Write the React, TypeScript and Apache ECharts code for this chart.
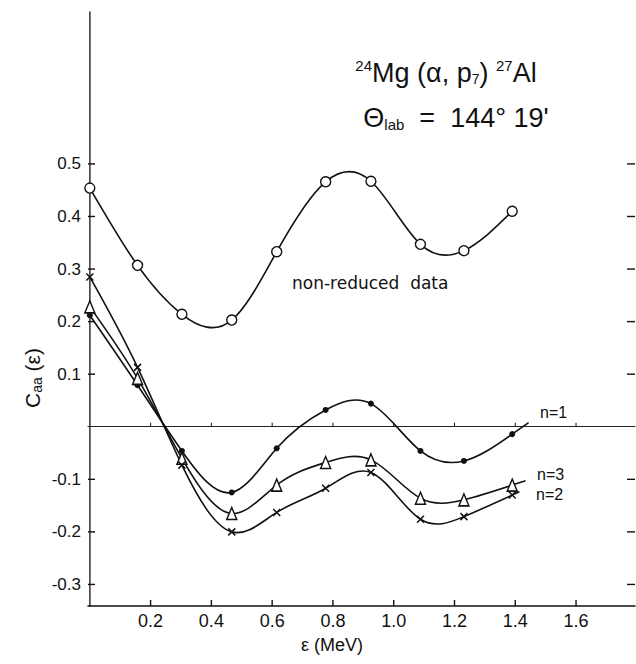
import React, { useEffect, useRef } from "react";
import * as echarts from "echarts";

const energies = [0, 0.157, 0.303, 0.467, 0.615, 0.776, 0.925, 1.088, 1.231, 1.39];
const nonReduced = [0.454, 0.307, 0.214, 0.203, 0.333, 0.466, 0.467, 0.347, 0.335, 0.41];
const n1Values = [0.212, 0.079, -0.046, -0.125, -0.041, 0.032, 0.044, -0.046, -0.065, -0.014];
const n3Values = [0.228, 0.092, -0.06, -0.165, -0.111, -0.068, -0.063, -0.136, -0.139, -0.111];
const n2Values = [0.285, 0.113, -0.073, -0.2, -0.163, -0.117, -0.087, -0.176, -0.171, -0.13];

const xTicks = [0.2, 0.4, 0.6, 0.8, 1.0, 1.2, 1.4, 1.6];
const xTickLabels = ["0.2", "0.4", "0.6", "0.8", "1.0", "1.2", "1.4", "1.6"];
const yTicks = [-0.3, -0.2, -0.1, 0.1, 0.2, 0.3, 0.4, 0.5];
const yTickLabels = ["-0.3", "-0.2", "-0.1", "0.1", "0.2", "0.3", "0.4", "0.5"];

const FONT = "Liberation Sans";
const X_MIN = -0.006;
const X_MAX = 1.794;
const Y_MIN = -0.341;
const Y_MAX = 0.789;

function pairs(ys: number[]) {
  return energies.map((e, i) => [e, ys[i]]);
}

// natural cubic spline (in pixel space) through the projected data points, as Bezier path
function splinePath(pts: number[][], tail: number) {
  const n = pts.length;
  const h: number[] = [];
  for (let i = 0; i < n - 1; i++) h.push(pts[i + 1][0] - pts[i][0]);
  const a: number[] = new Array(n).fill(0);
  const b: number[] = new Array(n).fill(1);
  const c: number[] = new Array(n).fill(0);
  const d: number[] = new Array(n).fill(0);
  for (let i = 1; i < n - 1; i++) {
    a[i] = h[i - 1];
    b[i] = 2 * (h[i - 1] + h[i]);
    c[i] = h[i];
    d[i] = 6 * ((pts[i + 1][1] - pts[i][1]) / h[i] - (pts[i][1] - pts[i - 1][1]) / h[i - 1]);
  }
  const cp = new Array(n).fill(0);
  const dp = new Array(n).fill(0);
  cp[0] = c[0] / b[0];
  dp[0] = d[0] / b[0];
  for (let i = 1; i < n; i++) {
    const m = b[i] - a[i] * cp[i - 1];
    cp[i] = c[i] / m;
    dp[i] = (d[i] - a[i] * dp[i - 1]) / m;
  }
  const M = new Array(n).fill(0);
  M[n - 1] = dp[n - 1];
  for (let i = n - 2; i >= 0; i--) M[i] = dp[i] - cp[i] * M[i + 1];
  const slope = (i: number) => {
    if (i < n - 1) return (pts[i + 1][1] - pts[i][1]) / h[i] - (h[i] * (2 * M[i] + M[i + 1])) / 6;
    const k = n - 2;
    return (pts[n - 1][1] - pts[k][1]) / h[k] + (h[k] * (M[k] + 2 * M[n - 1])) / 6;
  };
  let p = `M${pts[0][0]},${pts[0][1]}`;
  for (let i = 0; i < n - 1; i++) {
    const m0 = slope(i);
    const m1 = slope(i + 1);
    const hh = h[i];
    p += ` C${pts[i][0] + hh / 3},${pts[i][1] + (m0 * hh) / 3} ${pts[i + 1][0] - hh / 3},${
      pts[i + 1][1] - (m1 * hh) / 3
    } ${pts[i + 1][0]},${pts[i + 1][1]}`;
  }
  if (tail > 0) {
    const mEnd = slope(n - 1);
    const len = Math.sqrt(1 + mEnd * mEnd);
    p += ` L${pts[n - 1][0] + tail / len},${pts[n - 1][1] + (tail * mEnd) / len}`;
  }
  return p;
}

function curveSeries(ys: number[], tail: number) {
  return {
    type: "custom",
    clip: false,
    data: pairs(ys),
    z: 2,
    silent: true,
    renderItem: (params: any, api: any) => {
      if (params.dataIndex !== 0) return null;
      const pts = energies.map((e, i) => api.coord([e, ys[i]]));
      return {
        type: "path",
        shape: { pathData: splinePath(pts, tail) },
        style: { stroke: "#111", fill: "none", lineWidth: 1.6 },
      };
    },
  };
}

// tick marks drawn through the axis scales; dx/dy give the pixel direction of the tick
function tickSeries(data: number[][], dx: number, dy: number, width: number) {
  return {
    type: "custom",
    clip: false,
    silent: true,
    data,
    z: 3,
    renderItem: (params: any, api: any) => {
      const p = api.coord([api.value(0), api.value(1)]);
      return {
        type: "line",
        shape: { x1: p[0], y1: p[1], x2: p[0] + dx, y2: p[1] + dy },
        style: { stroke: "#111", lineWidth: width },
      };
    },
  };
}

export default function App() {
  const ref = useRef<HTMLDivElement>(null);
  useEffect(() => {
    if (!ref.current) return;
    const chart = echarts.init(ref.current, null, { renderer: "svg" });
    const option: any = {
      animation: false,
      backgroundColor: "#fff",
      grid: { left: 88, right: 1, top: 12, bottom: 58, containLabel: false },
      xAxis: [
        {
          type: "value",
          min: X_MIN,
          max: X_MAX,
          position: "bottom",
          axisLine: { onZero: false, lineStyle: { color: "#111", width: 1.5 } },
          axisTick: { show: false },
          axisLabel: {
            customValues: xTicks,
            margin: 6,
            color: "#111",
            fontFamily: FONT,
            fontSize: 18,
            formatter: (v: number) => {
              const i = xTicks.findIndex((t) => Math.abs(t - v) < 1e-6);
              return i >= 0 ? xTickLabels[i] : "";
            },
          },
          splitLine: { show: false },
        },
        {
          type: "value",
          min: X_MIN,
          max: X_MAX,
          position: "top",
          axisLine: { onZero: true, lineStyle: { color: "#222", width: 1.1 } },
          axisTick: { show: false },
          axisLabel: { show: false },
          splitLine: { show: false },
        },
      ],
      yAxis: [
        {
          type: "value",
          min: Y_MIN,
          max: Y_MAX,
          position: "left",
          axisLine: { lineStyle: { color: "#111", width: 1.5 } },
          axisTick: { show: false },
          axisLabel: {
            customValues: yTicks,
            margin: 7,
            color: "#111",
            fontFamily: FONT,
            fontSize: 17,
            formatter: (v: number) => {
              const i = yTicks.findIndex((t) => Math.abs(t - v) < 1e-6);
              return i >= 0 ? yTickLabels[i] : "";
            },
          },
          splitLine: { show: false },
        },
        {
          type: "value",
          min: Y_MIN,
          max: Y_MAX,
          position: "right",
          axisLine: { lineStyle: { color: "#888", width: 0.8 } },
          axisTick: { show: false },
          axisLabel: { show: false },
          splitLine: { show: false },
        },
      ],
      series: [
        tickSeries(yTicks.map((v) => [X_MIN, v]), 7, 0, 1.4),
        tickSeries(yTicks.map((v) => [X_MAX, v]), -8, 0, 1.4),
        tickSeries(xTicks.map((v) => [v, Y_MIN]), 0, -6, 1.4),
        tickSeries(xTicks.map((v) => [v, 0]), 0, -4, 1),
        curveSeries(nonReduced, 0),
        curveSeries(n1Values, 20),
        curveSeries(n3Values, 14),
        curveSeries(n2Values, 8),
        {
          name: "non-reduced data",
          type: "scatter",
          clip: false,
          data: pairs(nonReduced),
          symbol: "circle",
          symbolSize: 10,
          itemStyle: { color: "#fff", borderColor: "#111", borderWidth: 1.4, opacity: 1 },
          z: 5,
        },
        {
          name: "n=1",
          type: "scatter",
          clip: false,
          data: pairs(n1Values),
          symbol: "circle",
          symbolSize: 6,
          itemStyle: { color: "#111", opacity: 1 },
          z: 5,
        },
        {
          name: "n=3",
          type: "scatter",
          clip: false,
          data: pairs(n3Values),
          symbol: "triangle",
          symbolSize: [10, 12],
          itemStyle: { color: "#fff", borderColor: "#111", borderWidth: 1.5, opacity: 1 },
          z: 6,
        },
        {
          name: "n=2",
          type: "scatter",
          clip: false,
          data: pairs(n2Values),
          symbol: "path://M0 0L10 10M10 0L0 10",
          symbolSize: 7,
          itemStyle: { color: "none", borderColor: "#111", borderWidth: 1.5, opacity: 1 },
          z: 6,
        },
      ],
      graphic: [
        {
          type: "text",
          x: 446,
          y: 73,
          style: {
            text: "{sup|24}{b|Mg (α, p}{sub|7}{b|) }{sup|27}{b|Al}",
            align: "center",
            verticalAlign: "middle",
            rich: {
              b: { fontFamily: FONT, fontSize: 27, fill: "#111" },
              sup: { fontFamily: FONT, fontSize: 15, fill: "#111", padding: [0, 0, 15, 0] },
              sub: { fontFamily: FONT, fontSize: 14, fill: "#111", padding: [11, 0, 0, 0] },
            },
          },
        },
        {
          type: "text",
          x: 456,
          y: 118,
          style: {
            text: "{b|Θ}{sub|lab}{b|  =  144° 19'}",
            align: "center",
            verticalAlign: "middle",
            rich: {
              b: { fontFamily: FONT, fontSize: 27, fill: "#111" },
              sub: { fontFamily: FONT, fontSize: 15, fill: "#111", padding: [13, 0, 0, 0] },
            },
          },
        },
        {
          type: "text",
          x: 292,
          y: 283,
          style: {
            text: "non-reduced  data",
            align: "left",
            verticalAlign: "middle",
            fontFamily: "DejaVu Sans",
            fontSize: 17,
            fill: "#111",
          },
        },
        {
          type: "text",
          x: 540,
          y: 412,
          style: { text: "n=1", align: "left", verticalAlign: "middle", fontFamily: FONT, fontSize: 16, fill: "#111" },
        },
        {
          type: "text",
          x: 537,
          y: 474,
          style: { text: "n=3", align: "left", verticalAlign: "middle", fontFamily: FONT, fontSize: 16, fill: "#111" },
        },
        {
          type: "text",
          x: 536,
          y: 494,
          style: { text: "n=2", align: "left", verticalAlign: "middle", fontFamily: FONT, fontSize: 16, fill: "#111" },
        },
        {
          type: "text",
          x: 332,
          y: 645,
          style: { text: "ε (MeV)", align: "center", verticalAlign: "middle", fontFamily: FONT, fontSize: 18, fill: "#111" },
        },
        {
          type: "text",
          x: 32,
          y: 378,
          rotation: Math.PI / 2,
          style: {
            text: "{b|C}{sub|aa}{b| (ε)}",
            align: "center",
            verticalAlign: "middle",
            rich: {
              b: { fontFamily: FONT, fontSize: 21, fill: "#111" },
              sub: { fontFamily: FONT, fontSize: 14, fill: "#111", padding: [9, 0, 0, 0] },
            },
          },
        },
      ],
    };
    chart.setOption(option);
    return () => chart.dispose();
  }, []);
  return (
    <div
      ref={ref}
      style={{ position: "fixed", left: 0, top: 0, width: 636, height: 664, background: "#fff" }}
    />
  );
}
